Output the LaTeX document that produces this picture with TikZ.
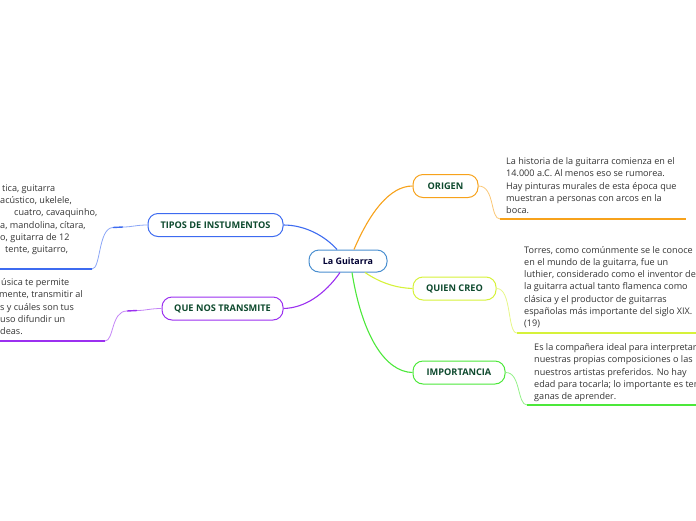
\documentclass[tikz,border=0pt]{standalone}
\usepackage{fontspec}
\setmainfont{Open Sans}
\usetikzlibrary{positioning,calc}

\definecolor{tiposc}{HTML}{3D6BF0}
\definecolor{transc}{HTML}{9B30F0}
\definecolor{origc}{HTML}{F7A21B}
\definecolor{quienc}{HTML}{D6F23A}
\definecolor{impc}{HTML}{4CE83A}
\definecolor{centc}{HTML}{4A8FD0}
\definecolor{labc}{HTML}{0E4A2E}
\definecolor{txtc}{HTML}{333333}

\begin{document}
\begin{tikzpicture}[x=1pt,y=-1pt,
  main/.style={draw=centc,line width=1pt,fill=white,rounded corners=10pt,minimum width=78pt,minimum height=22pt,
    inner sep=0pt,font=\fontsize{8.9}{10}\selectfont\bfseries,text=blue!20!black},
  topic/.style={draw=#1,line width=1pt,fill=white,rounded corners=10pt,minimum height=23pt,inner sep=0pt,
    font=\fontsize{9.2}{10}\selectfont\bfseries,text=labc},
  note/.style={inner sep=0pt,align=left,text=txtc,font=\fontsize{9.1}{12.2}\selectfont},
  link/.style={line width=1.1pt,#1},
  twig/.style={line width=0.8pt,#1!60},
  mark/.style={line width=1.4pt,#1},
  rule/.style={line width=1.3pt,#1}
]
\useasboundingbox (0,0) rectangle (696,520);

% centre
\node[main] (guitarra) at (348,261) {La Guitarra};

% main topics
\node[topic=tiposc,minimum width=135pt] (tipos) at (215.5,225) {TIPOS DE INSTUMENTOS};
\node[topic=transc,minimum width=121pt] (trans) at (222.5,308.5) {QUE NOS TRANSMITE};
\node[topic=origc,minimum width=65pt] (origen) at (445.5,186) {ORIGEN};
\node[topic=quienc,minimum width=83pt] (quien) at (454.5,288.5) {QUIEN CREO};
\node[topic=impc,minimum width=92pt] (imp) at (459,372.5) {IMPORTANCIA};

\draw[link=tiposc] ($(guitarra.north)+(-11,0)$) .. controls (325,236) and (305,225) .. (tipos.east);
\draw[link=origc] ($(guitarra.north)+(6,0)$) .. controls (370,212) and (390,186) .. (origen.west);
\draw[link=transc] ($(guitarra.south)+(-8,0)$) .. controls (325,294) and (305,308) .. (trans.east);
\draw[link=quienc] ($(guitarra.south)+(17,0)$) .. controls (382,284) and (398,288) .. (quien.west);
\draw[link=impc] ($(guitarra.south)+(4,0)$) .. controls (362,335) and (385,372) .. (imp.west);

% notes (anchored on the baseline of their last line)
\node[note,anchor=base west] (tiposnote) at (0,252.5) {%
  \hspace*{2pt}tica, guitarra\\%
  acústico, ukelele,\\%
  \hspace*{14pt}cuatro, cavaquinho,\\%
  a, mandolina, cítara,\\%
  o, guitarra de 12\\%
  \hspace*{5pt}tente, guitarro,};
\node[note,anchor=base west] (transnote) at (0,334.5) {%
  \hspace*{1pt}úsica te permite\\%
  \hspace*{-1pt}mente, transmitir al\\%
  s y cuáles son tus\\%
  uso difundir un\\%
  deas.};
\node[note,anchor=base west] (origennote) at (506,213.5) {%
  La historia de la guitarra comienza en el\\%
  14.000 a.C. Al menos eso se rumorea.\\%
  Hay pinturas murales de esta época que\\%
  muestran a personas con arcos en la\\%
  boca.};
\node[note,anchor=base west] (quiennote) at (524,326.5) {%
  Torres, como comúnmente se le conoce\\%
  en el mundo de la guitarra, fue un\\%
  luthier, considerado como el inventor de\\%
  la guitarra actual tanto flamenca como\\%
  clásica y el productor de guitarras\\%
  españolas más importante del siglo XIX.\\%
  (19)};
\node[note,anchor=base west] (impnote) at (534,399.5) {%
  Es la compañera ideal para interpretar\\%
  nuestras propias composiciones o las\\%
  nuestros artistas preferidos. No hay\\%
  edad para tocarla; lo importante es tener\\%
  ganas de aprender.};

% twigs and rules
\coordinate (tiposA) at (92,269);
\coordinate (tiposB) at (0,269);
\coordinate (tiposM1) at (123,227);
\coordinate (tiposM2) at (113,227.5);
\draw[twig=tiposc] (tipos.west) .. controls (136,225) and (132,227) .. (tiposM1);
\draw[twig=tiposc] (tiposM2) .. controls (98,228) and (101,269) .. (tiposA);
\draw[mark=tiposc] (tiposM1) -- (tiposM2);
\draw[rule=tiposc] (tiposA) -- (tiposB);

\coordinate (transA) at (105,341);
\coordinate (transB) at (0,341);
\coordinate (transM1) at (137,310.5);
\coordinate (transM2) at (127,311);
\draw[twig=transc] (trans.west) .. controls (150,308.5) and (146,310.5) .. (transM1);
\draw[twig=transc] (transM2) .. controls (111,311) and (114,341) .. (transA);
\draw[mark=transc] (transM1) -- (transM2);
\draw[rule=transc] (transA) -- (transB);

\coordinate (origenA) at (500,219);
\coordinate (origenB) at (686,219);
\draw[twig=origc] (origen.east) .. controls (495,186) and (490,219) .. (origenA);
\draw[rule=origc] (origenA) -- (origenB);

\coordinate (quienA) at (517,333);
\coordinate (quienB) at (696,333);
\draw[twig=quienc] (quien.east) .. controls (512,288) and (507,333) .. (quienA);
\draw[rule=quienc] (quienA) -- (quienB);

\coordinate (impA) at (527,405);
\coordinate (impB) at (696,405);
\draw[twig=impc] (imp.east) .. controls (521,372) and (517,405) .. (impA);
\draw[rule=impc] (impA) -- (impB);
\end{tikzpicture}
\end{document}
